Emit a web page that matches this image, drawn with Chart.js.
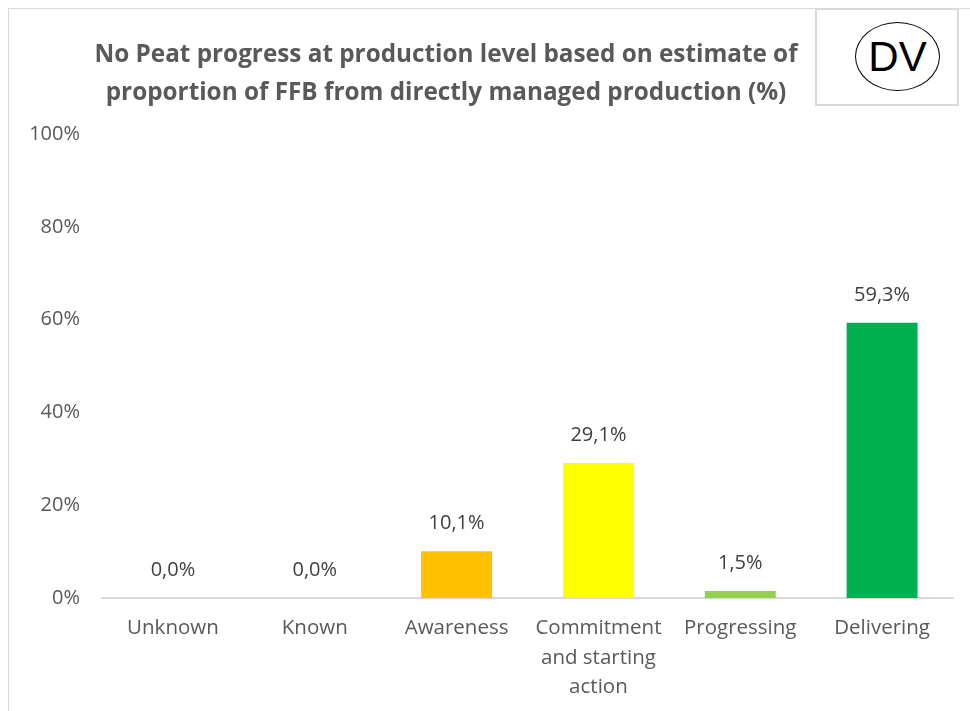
<!DOCTYPE html>
<html>
<head>
<meta charset="utf-8">
<script src="https://cdn.jsdelivr.net/npm/chart.js@4"></script>
<style>
  body { margin: 0; background: #fff; }
  #wrap { position: relative; width: 970px; height: 711px; overflow: hidden; }
  #frame { position: absolute; left: 8px; top: 8px; width: 1200px; height: 1200px; border: 1px solid #d9d9d9; }
  #dv { position: absolute; left: 815px; top: 8px; width: 140px; height: 94px; border: 2px solid #d9d9d9; background: #fff; }
  #dv .ring { position: absolute; left: 38px; top: 12px; width: 83px; height: 67px; border: 1.5px solid #000; border-radius: 50%;
    font: 42px "Liberation Sans", Arial, sans-serif; color: #000; text-align: center; line-height: 68px; }
  canvas { position: absolute; left: 0; top: 0; }
</style>
</head>
<body>
<div id="wrap">
  <div id="frame"></div>
  <canvas id="chart" width="970" height="711"></canvas>
  <div id="dv"><div class="ring">DV</div></div>
</div>
<script>
const categories = ["Unknown", "Known", "Awareness", ["Commitment", "and starting", "action"], "Progressing", "Delivering"];
const values = [0.0, 0.0, 10.1, 29.1, 1.5, 59.3];
const barColors = ["#FFC000", "#FFC000", "#FFC000", "#FFFF00", "#92D050", "#00B050"];
const yTicks = [0, 20, 40, 60, 80, 100];
const titleLines = [
  "No Peat progress at production level based on estimate of",
  "proportion of FFB from directly managed production (%)"
];

const FONT = '"Open Sans", "Liberation Sans", sans-serif';

// title drawn at a fixed centre so it sits left of the DV box
const titlePlugin = {
  id: "titleLines",
  afterDraw(chart) {
    const ctx = chart.ctx;
    ctx.save();
    ctx.fillStyle = "#595959";
    ctx.font = "bold 24.3px " + FONT;
    ctx.textAlign = "center";
    ctx.textBaseline = "middle";
    ctx.fillText(titleLines[0], 446, 55);
    ctx.fillText(titleLines[1], 446, 93);
    ctx.restore();
  }
};

// value labels above each bar, written with a comma decimal
const valueLabels = {
  id: "valueLabels",
  afterDatasetsDraw(chart) {
    const ctx = chart.ctx;
    const meta = chart.getDatasetMeta(0);
    ctx.save();
    ctx.fillStyle = "#404040";
    ctx.font = "20px " + FONT;
    ctx.textAlign = "center";
    ctx.textBaseline = "middle";
    meta.data.forEach((bar, i) => {
      const txt = values[i].toFixed(1).replace(".", ",") + "%";
      ctx.fillText(txt, bar.x, bar.y - 28);
    });
    ctx.restore();
  }
};

new Chart(document.getElementById("chart").getContext("2d"), {
  type: "bar",
  data: {
    labels: categories,
    datasets: [{
      data: values,
      backgroundColor: barColors,
      categoryPercentage: 1.0,
      barPercentage: 0.5
    }]
  },
  options: {
    responsive: false,
    animation: false,
    layout: { padding: { left: 0, right: 17, top: 134, bottom: 0 } },
    plugins: { legend: { display: false }, tooltip: { enabled: false } },
    scales: {
      x: {
        afterFit(scale) { scale.height = 113; },
        grid: { display: false, drawTicks: false },
        border: { color: "#d9d9d9", width: 2 },
        ticks: {
          color: "#595959",
          font: { family: FONT, size: 20.5, lineHeight: 1.42 },
          padding: 16,
          maxRotation: 0,
          autoSkip: false
        }
      },
      y: {
        min: 0,
        max: 100,
        afterFit(scale) { scale.width = 102; },
        afterBuildTicks(scale) { scale.ticks = yTicks.map(v => ({ value: v })); },
        grid: { display: false, drawTicks: false },
        border: { display: false },
        ticks: {
          color: "#595959",
          font: { family: FONT, size: 20 },
          padding: 22,
          callback: v => v + "%"
        }
      }
    }
  },
  plugins: [titlePlugin, valueLabels]
});
</script>
</body>
</html>
